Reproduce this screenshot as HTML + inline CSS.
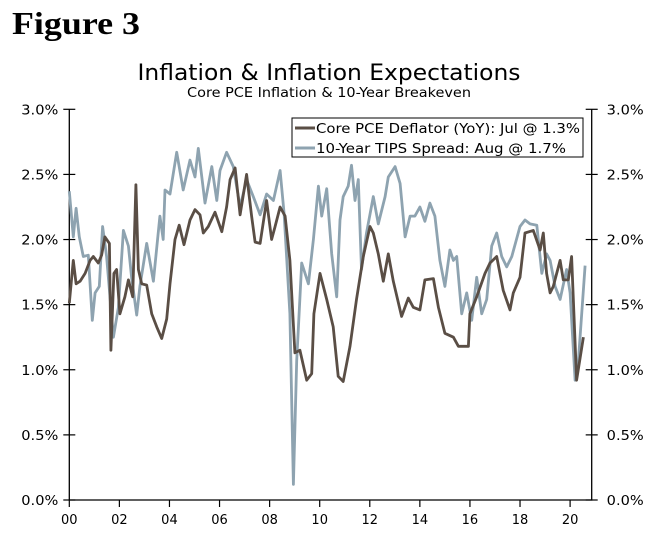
<!DOCTYPE html>
<html><head><meta charset="utf-8"><style>
body{margin:0;background:#fff;}
svg text{font-family:"DejaVu Sans","Liberation Sans",sans-serif;}
</style></head><body>
<svg width="657" height="541" viewBox="0 0 657 541" xmlns="http://www.w3.org/2000/svg">
<text x="12" y="34" textLength="128" lengthAdjust="spacingAndGlyphs" style="font-family:'Liberation Serif',serif;font-weight:bold;font-size:32px">Figure 3</text>
<text x="329" y="80" text-anchor="middle" font-size="22" textLength="383" lengthAdjust="spacingAndGlyphs">Inflation &amp; Inflation Expectations</text>
<text x="329" y="97" text-anchor="middle" font-size="13" textLength="284" lengthAdjust="spacingAndGlyphs">Core PCE Inflation &amp; 10-Year Breakeven</text>
<g id="axes"></g>
<g id="series"></g>
<g>
<rect x="292" y="118" width="291" height="39" fill="#fff" stroke="#000" stroke-width="1"/>
<line x1="295" y1="128" x2="315" y2="128" stroke="#5a4e45" stroke-width="3"/>
<text x="316" y="133" font-size="13" textLength="264" lengthAdjust="spacingAndGlyphs">Core PCE Deflator (YoY): Jul @ 1.3%</text>
<line x1="295" y1="148" x2="315" y2="148" stroke="#8ea3b0" stroke-width="3"/>
<text x="316" y="153" font-size="13" textLength="250" lengthAdjust="spacingAndGlyphs">10-Year TIPS Spread: Aug @ 1.7%</text>
</g>
</svg>
<script>
const yTicks=[0,0.5,1,1.5,2,2.5,3];
const yTickLabels=["0.0%","0.5%","1.0%","1.5%","2.0%","2.5%","3.0%"];
const xTicks=[2000,2002,2004,2006,2008,2010,2012,2014,2016,2018,2020];
const xTickLabels=["00","02","04","06","08","10","12","14","16","18","20"];
const pceYears=[2000.00,2000.16,2000.27,2000.43,2000.63,2000.83,2000.96,2001.16,2001.29,2001.42,2001.60,2001.66,2001.78,2001.89,2002.02,2002.22,2002.36,2002.53,2002.66,2002.76,2002.89,2003.09,2003.29,2003.49,2003.69,2003.89,2004.02,2004.22,2004.39,2004.58,2004.82,2005.02,2005.22,2005.35,2005.55,2005.82,2006.09,2006.28,2006.42,2006.62,2006.82,2007.08,2007.28,2007.42,2007.62,2007.88,2008.08,2008.22,2008.42,2008.62,2008.81,2009.01,2009.21,2009.48,2009.68,2009.77,2010.01,2010.28,2010.54,2010.74,2010.94,2011.21,2011.47,2011.74,2012.01,2012.14,2012.34,2012.54,2012.74,2012.94,2013.27,2013.54,2013.74,2014.00,2014.20,2014.54,2014.74,2015.00,2015.34,2015.54,2015.94,2016.00,2016.27,2016.60,2016.80,2017.07,2017.33,2017.60,2017.73,2018.00,2018.20,2018.53,2018.80,2018.93,2019.06,2019.20,2019.33,2019.60,2019.73,2019.93,2020.06,2020.26,2020.53];
const pceValues=[1.51,1.84,1.66,1.68,1.74,1.84,1.87,1.82,1.88,2.02,1.97,1.15,1.74,1.77,1.43,1.56,1.69,1.56,2.42,1.77,1.66,1.65,1.43,1.33,1.24,1.39,1.66,2.00,2.11,1.96,2.15,2.23,2.19,2.05,2.10,2.21,2.06,2.25,2.46,2.55,2.19,2.50,2.18,1.98,1.97,2.30,2.00,2.10,2.25,2.18,1.84,1.13,1.15,0.92,0.97,1.43,1.74,1.54,1.33,0.95,0.91,1.18,1.54,1.87,2.10,2.05,1.89,1.68,1.89,1.68,1.41,1.55,1.48,1.46,1.69,1.70,1.48,1.28,1.25,1.18,1.18,1.43,1.56,1.74,1.82,1.87,1.61,1.46,1.59,1.71,2.05,2.07,1.92,2.05,1.74,1.59,1.64,1.84,1.69,1.69,1.87,0.92,1.25];
const tipsYears=[2000.00,2000.16,2000.27,2000.40,2000.56,2000.76,2000.92,2001.03,2001.20,2001.33,2001.49,2001.76,2001.96,2002.16,2002.36,2002.49,2002.69,2002.82,2003.09,2003.36,2003.62,2003.75,2003.82,2004.02,2004.29,2004.55,2004.82,2005.02,2005.15,2005.42,2005.69,2005.89,2006.02,2006.28,2006.55,2006.82,2007.08,2007.35,2007.62,2007.88,2008.15,2008.42,2008.58,2008.81,2008.95,2009.08,2009.28,2009.55,2009.75,2009.95,2010.08,2010.28,2010.48,2010.68,2010.81,2010.94,2011.14,2011.27,2011.41,2011.54,2011.67,2011.87,2012.14,2012.34,2012.61,2012.74,2013.01,2013.21,2013.41,2013.61,2013.80,2014.00,2014.20,2014.40,2014.60,2014.80,2015.00,2015.20,2015.34,2015.47,2015.67,2015.87,2016.07,2016.27,2016.47,2016.67,2016.87,2017.07,2017.27,2017.47,2017.67,2018.00,2018.20,2018.40,2018.67,2018.87,2019.06,2019.20,2019.40,2019.60,2019.86,2020.00,2020.20,2020.33,2020.60];
const tipsValues=[2.37,2.02,2.24,2.02,1.87,1.88,1.38,1.59,1.64,2.10,1.87,1.25,1.48,2.07,1.95,1.71,1.42,1.64,1.97,1.68,2.18,2.00,2.38,2.35,2.67,2.38,2.61,2.48,2.70,2.28,2.56,2.30,2.53,2.67,2.56,2.25,2.46,2.33,2.19,2.35,2.30,2.53,2.20,1.43,0.12,1.07,1.82,1.66,2.00,2.41,2.18,2.39,1.89,1.56,2.15,2.33,2.41,2.57,2.30,2.46,1.77,2.05,2.33,2.12,2.33,2.48,2.56,2.43,2.02,2.18,2.18,2.25,2.14,2.28,2.18,1.84,1.64,1.92,1.84,1.87,1.43,1.59,1.38,1.71,1.43,1.54,1.95,2.05,1.87,1.79,1.87,2.10,2.15,2.12,2.11,1.74,1.89,1.84,1.64,1.54,1.77,1.59,0.92,1.07,1.80];

const NS="http://www.w3.org/2000/svg";
const X0=69.3,XR=591.7,Y0=500,Y3=109.3;
function xScale(yr){return X0+(yr-2000)*25.04;}
function yScale(v){return Y0-(v/3)*(Y0-Y3);}
function mk(tag,attrs,parent){const e=document.createElementNS(NS,tag);for(const k in attrs)e.setAttribute(k,attrs[k]);parent.appendChild(e);return e;}
const axes=document.getElementById('axes');
const ax=mk('path',{d:`M${X0},${Y3}V${Y0}H${XR}V${Y3}`,fill:'none',stroke:'#000','stroke-width':1.3},axes);


yTicks.forEach((v,i)=>{
  const y=yScale(v);
  mk('line',{x1:X0-6,x2:X0+6,y1:y,y2:y,stroke:'#000','stroke-width':1.2},axes);
  mk('line',{x1:XR-6,x2:XR+6,y1:y,y2:y,stroke:'#000','stroke-width':1.2},axes);
  const t=mk('text',{x:X0-11,y:y+5,'text-anchor':'end','font-size':13,textLength:37,lengthAdjust:'spacingAndGlyphs'},axes);
  t.textContent=yTickLabels[i];
  
  
  const t2=mk('text',{x:XR+15,y:y+5,'font-size':13,textLength:37,lengthAdjust:'spacingAndGlyphs'},axes);
  t2.textContent=yTickLabels[i];
  
  
});
xTicks.forEach((yr,i)=>{
  const x=xScale(yr);
  mk('line',{x1:x,x2:x,y1:Y0,y2:Y0+7,stroke:'#000','stroke-width':1.2},axes);
  const t=mk('text',{x:x,y:Y0+24,'text-anchor':'middle','font-size':13},axes);
  t.textContent=xTickLabels[i];
  
  
});
const series=document.getElementById('series');
function line(xs,vs,color,name){
  const d=xs.map((x,i)=>(i?'L':'M')+xScale(x).toFixed(1)+','+yScale(vs[i]).toFixed(1)).join('');
  const p=mk('path',{d:d,fill:'none',stroke:color,'stroke-width':2.8,'stroke-linejoin':'round'},series);
  
  
}
line(tipsYears,tipsValues,'#8ea3b0','tips-spread-line');
line(pceYears,pceValues,'#5a4e45','core-pce-line');
</script>
</body></html>
